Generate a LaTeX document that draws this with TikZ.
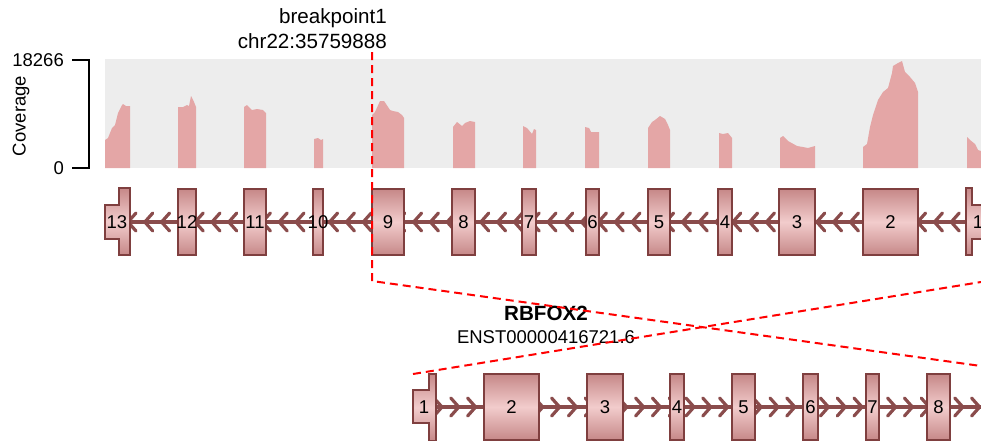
\documentclass[tikz,border=0pt]{standalone}
\usepackage{fontspec}
\setmainfont{Liberation Sans}
\definecolor{panelgray}{HTML}{EDEDED}
\definecolor{covpink}{HTML}{E4A6A6}
\definecolor{exonedge}{HTML}{7F3F3F}
\definecolor{exondark}{HTML}{C68888}
\definecolor{exonlight}{HTML}{F2CCCC}
\definecolor{intron}{HTML}{8A4C4C}
\tikzset{
  exon/.style={draw=exonedge, line width=1.3pt, top color=exondark, bottom color=exondark, middle color=exonlight, inner sep=0pt, minimum height=66pt},
  chevron/.style={draw=intron, line width=3.2pt, line join=round, line cap=round},
  breakline/.style={draw=red, line width=2pt, dash pattern=on 8pt off 5pt},
  txt/.style={inner sep=0pt},
  bigtxt/.style={txt, font=\fontsize{20.6}{24}\selectfont},
}
\begin{document}
\begin{tikzpicture}[x=1pt, y=-1pt, font=\fontsize{18.5}{22}\selectfont]
  \useasboundingbox (0,0) rectangle (981,440);
  \clip (0,0) rectangle (981,440);

  % coverage panel
  \fill[panelgray] (105,59) rectangle (981,168);
  \fill[covpink] plot coordinates {(105,168) (105,140) (108,138) (112,128) (115,125) (118,113) (122,105) (123,104) (126,106) (130,106) (130,168)} -- cycle;
  \fill[covpink] plot coordinates {(178,168) (178,107) (183,107) (187,105) (189,106) (191,96) (194,102) (196,107) (196,168)} -- cycle;
  \fill[covpink] plot coordinates {(244,168) (244,107) (247,105) (252,110) (257,109) (263,110) (266,113) (266,168)} -- cycle;
  \fill[covpink] plot coordinates {(314,168) (314,139) (318,138) (321,140) (323,139) (323,168)} -- cycle;
  \fill[covpink] plot coordinates {(372,168) (372,115) (375,112) (380,101) (384,101) (390,110) (393,111) (398,112) (402,115) (404,118) (404,168)} -- cycle;
  \fill[covpink] plot coordinates {(453,168) (453,127) (457,122) (462,126) (465,123) (470,121) (475,122) (475,168)} -- cycle;
  \fill[covpink] plot coordinates {(523,168) (523,126) (527,128) (532,134) (534,129) (536,130) (536,168)} -- cycle;
  \fill[covpink] plot coordinates {(585,168) (585,127) (589,128) (591,132) (597,132) (599,132) (599,168)} -- cycle;
  \fill[covpink] plot coordinates {(648,168) (648,128) (652,122) (655,120) (660,116) (665,119) (668,125) (670,130) (670,168)} -- cycle;
  \fill[covpink] plot coordinates {(719,168) (719,133) (723,134) (728,133) (732,138) (732,168)} -- cycle;
  \fill[covpink] plot coordinates {(780,168) (780,138) (783,136) (788,141) (797,146) (803,147) (808,148) (815,146) (815,168)} -- cycle;
  \fill[covpink] plot coordinates {(863,168) (863,147) (867,144) (870,127) (873,115) (878,100) (883,92) (888,88) (892,73) (893,66) (898,63) (902,61) (905,72) (910,77) (915,83) (918,92) (918,168)} -- cycle;
  \fill[covpink] plot coordinates {(967,168) (967,137) (970,140) (975,144) (978,150) (981,151) (981,168)} -- cycle;

  % axis
  \draw[line width=1.5pt] (72,60) -- (89,60) -- (89,168) -- (72,168);
  \node[txt, anchor=east] (ymax) at (64,60) {18266};
  \node[txt, anchor=east] (ymin) at (64,168) {0};
  \node[txt, rotate=90] (ylab) at (21,116) {Coverage};

  % upper transcript
  \draw[intron, line width=4pt] (105,222) -- (981,222);
  \foreach \k in {0,...,50}
    \draw[chevron] ({128+16.8*\k+8},213) -- ({128+16.8*\k},222) -- ({128+16.8*\k+8},231);
  \path[exon] (105,205) -- (119,205) -- (119,188) -- (130,188) -- (130,255) -- (119,255) -- (119,239) -- (105,239) -- cycle;
  \node (up13) at (117,222) {13};
  \foreach \a/\b/\n in {178/196/12, 244/266/11, 313/323/10, 372/404/9, 452/475/8, 522/536/7, 586/599/6, 648/670/5, 718/732/4, 779/815/3, 863/918/2}
    \node[exon, minimum width=\b pt-\a pt, label=center:\n] (up\n) at ({(\a+\b)/2},222) {};
  \path[exon] (966,188) -- (972,188) -- (972,205) -- (995,205) -- (995,239) -- (972,239) -- (972,255) -- (966,255) -- cycle;
  \node (up1) at (978,222) {1};

  % lower transcript
  \draw[intron, line width=4pt] (413,407) -- (981,407);
  \foreach \k in {0,...,32}
    \draw[chevron] ({442+16.8*\k-8},398) -- ({442+16.8*\k},407) -- ({442+16.8*\k-8},416);
  \path[exon] (413,390) -- (429,390) -- (429,374) -- (436,374) -- (436,441) -- (429,441) -- (429,423) -- (413,423) -- cycle;
  \node (lo1) at (424,407) {1};
  \foreach \a/\b/\n in {484/539/2, 587/623/3, 670/684/4, 732/755/5, 803/818/6, 866/879/7, 927/950/8}
    \node[exon, minimum width=\b pt-\a pt, label=center:\n] (lo\n) at ({(\a+\b)/2},407) {};

  % labels
  \node[bigtxt, anchor=base east] (bpname) at (387,23) {breakpoint1};
  \node[bigtxt, anchor=base east] (bpchr) at (387,48) {chr22:35759888};
  \node[bigtxt, anchor=base] (gene) at (546,320) {\bfseries RBFOX2};
  \node[txt, anchor=base] (tx) at (546,343) {ENST00000416721.6};

  % breakpoint
  \coordinate (bptop) at (372,52);
  \coordinate (bpbottom) at (372,281);
  \coordinate (fuseright) at (981,366);
  \coordinate (fuseleft) at (413,374);
  \coordinate (partright) at (981,282);
  \draw[breakline] (bptop) -- (bpbottom) -- (fuseright);
  \draw[breakline] (fuseleft) -- (partright);
\end{tikzpicture}
\end{document}
